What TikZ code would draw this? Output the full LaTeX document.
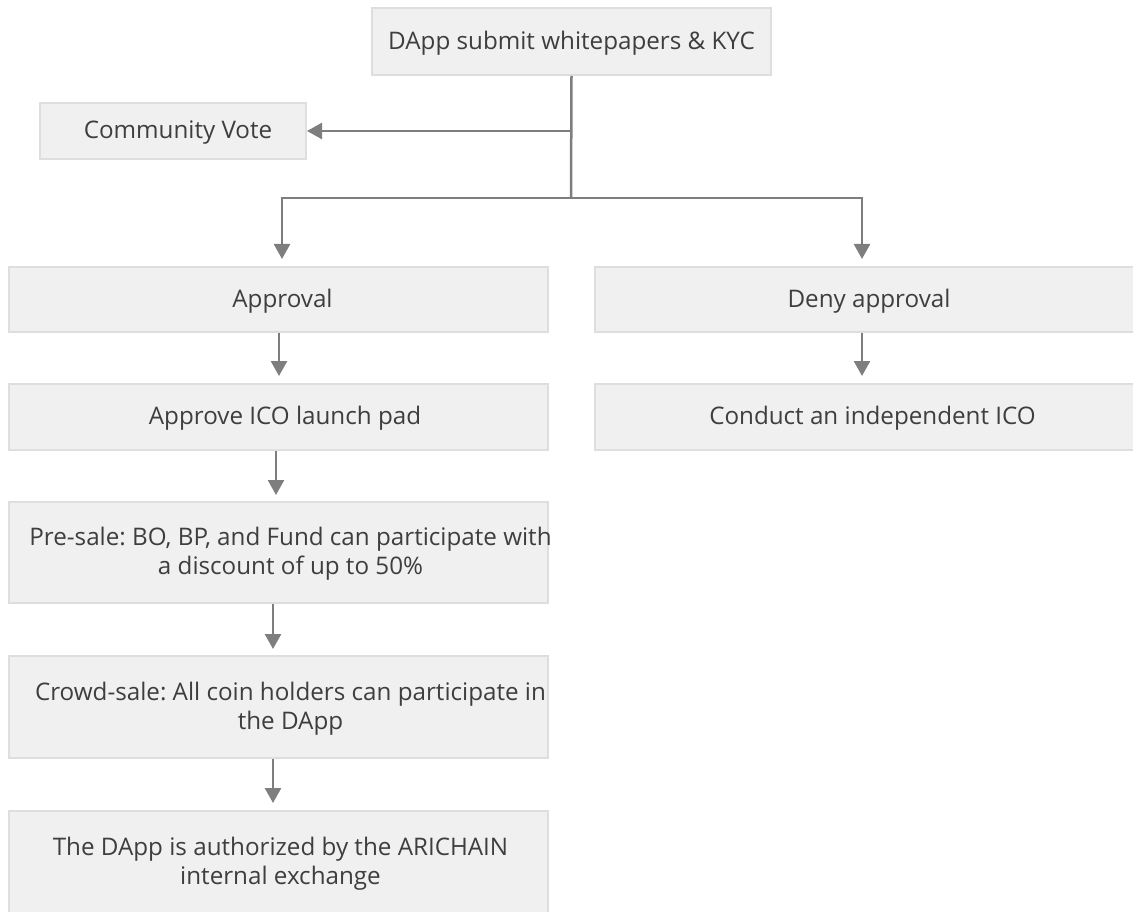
\documentclass[tikz,border=0pt]{standalone}
\usepackage{fontspec}
\setmainfont{Open Sans}
\usetikzlibrary{arrows.meta}
\definecolor{boxfill}{HTML}{F0F0F0}
\definecolor{boxline}{HTML}{DEDEDE}
\definecolor{linkgray}{HTML}{7E7E7E}
\definecolor{txt}{HTML}{3E3E3E}
\frenchspacing
% left indent of a label inside its box
\newcommand{\lpad}[1]{\hspace*{#1pt}}
\begin{document}
\begin{tikzpicture}[x=1pt,y=-1pt,
  txtstyle/.style={text=txt, align=center, inner sep=0pt, font=\fontsize{24.2}{29}\selectfont},
  box/.style={txtstyle, draw=boxline, line width=2pt, fill=boxfill},
  oneline/.style={text height=18.4pt, text depth=3pt},
  wide/.style={box, minimum width=539pt},
  link/.style={draw=linkgray, line width=2.5pt},
  arr/.style={link, -{Triangle[width=16pt,length=15pt]}}]
\useasboundingbox (0,0) rectangle (1133,912);
\begin{scope}
\clip (0,0) rectangle (1133,912);
% boxes
\node[box, oneline, minimum width=399pt, minimum height=67pt] (top) at (571.5,41.5) {DApp submit whitepapers \& KYC};
\node[box, oneline, minimum width=266pt, minimum height=56pt] (cv) at (173,131) {\lpad{10}Community Vote};
\node[wide, oneline, minimum height=65pt] (appr) at (278.5,299.5) {\lpad{8}Approval};
\node[wide, oneline, minimum height=65pt] (deny) at (864.5,299.5) {\lpad{9}Deny approval};
\node[wide, oneline, minimum height=66pt] (ico) at (278.5,417) {\lpad{13}Approve ICO launch pad};
\node[wide, oneline, minimum height=66pt] (cond) at (864.5,417) {\lpad{16}Conduct an independent ICO};
\node[wide, minimum height=101pt] (pre) at (278.5,552.5) {};
\node[txtstyle] at ([xshift=12pt,yshift=-1.5pt]pre.center) {Pre-sale: BO, BP, and Fund can participate with\\a discount of up to 50\%};
\node[wide, minimum height=102pt] (crowd) at (278.5,707) {};
\node[txtstyle] at ([xshift=12pt,yshift=-1.5pt]crowd.center) {Crowd-sale: All coin holders can participate in\\the DApp};
\node[wide, minimum height=102pt] (fin) at (278.5,862) {};
\node[txtstyle] at ([xshift=2pt,yshift=-1.5pt]fin.center) {The DApp is authorized by the ARICHAIN\\internal exchange};
% connectors
\coordinate (j) at (571,198);
\draw[link] (top.south) -- (j);
\draw[arr] (top.south |- cv.east) -- (cv.east);
\draw[arr, shorten >=7pt] (j) -| ([xshift=3.5pt]appr.north);
\draw[arr, shorten >=7pt] (j) -| ([xshift=-2.5pt]deny.north);
\draw[arr, shorten >=7pt] ([xshift=0.5pt]appr.south) -- ([xshift=0.5pt]ico.north);
\draw[arr, shorten >=7pt] ([xshift=-2.5pt]deny.south) -- ([xshift=-2.5pt]cond.north);
\draw[arr, shorten >=6pt] ([xshift=-2.5pt]ico.south) -- ([xshift=-2.5pt]pre.north);
\draw[arr, shorten >=6pt] ([xshift=-5.5pt]pre.south) -- ([xshift=-5.5pt]crowd.north);
\draw[arr, shorten >=7pt] ([xshift=-5.5pt]crowd.south) -- ([xshift=-5.5pt]fin.north);
\end{scope}
\end{tikzpicture}
\end{document}
